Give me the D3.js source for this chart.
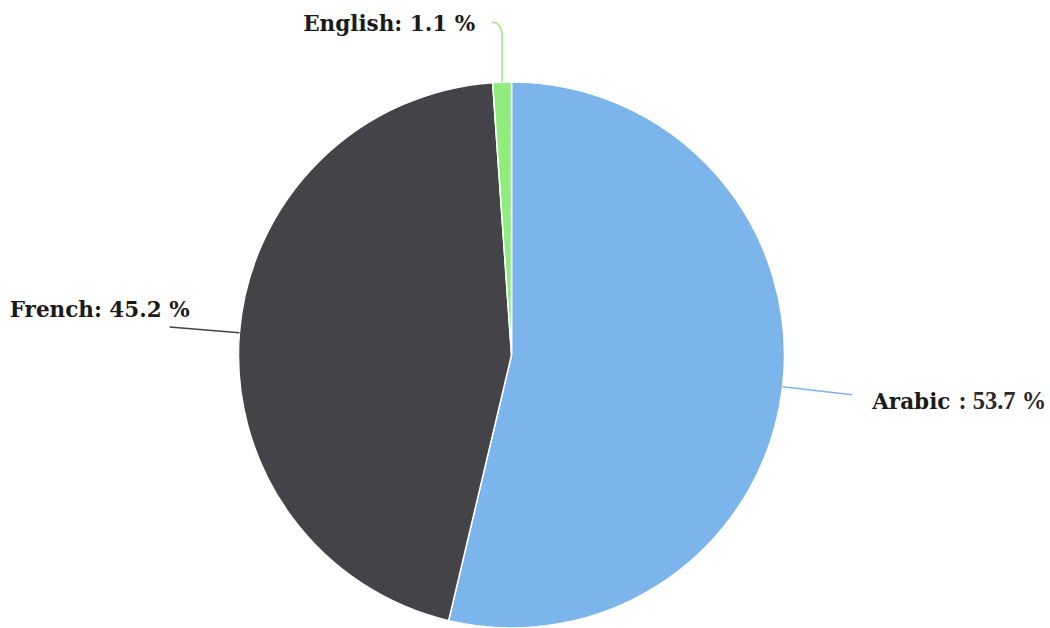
<!DOCTYPE html>
<html>
<head>
<meta charset="utf-8">
<script src="https://cdn.jsdelivr.net/npm/d3@7/dist/d3.min.js"></script>
<style>
  html, body { margin: 0; padding: 0; background: #ffffff; }
  svg { display: block; }
  .lbl { font-family: "DejaVu Serif", serif; font-weight: bold; font-size: 21.5px; fill: #1a1a1a; }
  .val { font-family: "Liberation Serif", serif; font-weight: bold; font-size: 24.5px; fill: #2a2a2a; }
</style>
</head>
<body>
<svg id="chart" width="1050" height="628"></svg>
<script>
// Language shares (%)
const languages = ["Arabic", "French", "English"];
const shares = [53.7, 45.2, 1.1];
const colors = ["#7cb5ec", "#434348", "#90ed7d"];

const width = 1050, height = 628;
const cx = 511.5, cy = 355, radius = 273;

const svg = d3.select("#chart");
const g = svg.append("g").attr("transform", `translate(${cx},${cy})`);

const pie = d3.pie().sort(null).value(d => d.value);
const data = pie(languages.map((name, i) => ({ name, value: shares[i], color: colors[i] })));

const arc = d3.arc().innerRadius(0).outerRadius(radius);

g.selectAll("path.slice")
  .data(data)
  .join("path")
  .attr("class", "slice")
  .attr("d", arc)
  .attr("fill", d => d.data.color)
  .attr("stroke", "#ffffff")
  .attr("stroke-width", 1.5)
  .attr("stroke-linejoin", "round");

// Connector and label placement per slice
const connectorLen = 70;
const labelLayout = {
  Arabic:  { anchor: "start", dx: 20,  dy: 14 },
  French:  { anchor: "end",   dx: 20,  dy: -10 },
  English: { anchor: "end",   dx: -17, dy: 9 }
};

function polar(angle, r) {
  return [r * Math.sin(angle), -r * Math.cos(angle)];
}

data.forEach(d => {
  const mid = (d.startAngle + d.endAngle) / 2;
  const p0 = polar(mid, radius);
  const lay = labelLayout[d.data.name];
  let path, end;
  if (d.data.name === "English") {
    const bend = [p0[0], p0[1] - (connectorLen - 25)];
    end = [p0[0] - 10, p0[1] - (connectorLen - 10)];
    path = `M${p0[0]},${p0[1]} L${bend[0]},${bend[1]} Q${bend[0]},${end[1]} ${end[0]},${end[1]}`;
  } else {
    end = polar(mid, radius + connectorLen);
    path = `M${p0[0]},${p0[1]} L${end[0]},${end[1]}`;
  }
  g.append("path")
    .attr("d", path)
    .attr("fill", "none")
    .attr("stroke", d.data.color)
    .attr("stroke-width", 1.5);

  const t = g.append("text")
    .attr("class", "lbl")
    .attr("x", end[0] + lay.dx)
    .attr("y", end[1] + lay.dy)
    .attr("text-anchor", lay.anchor);
  if (d.data.name === "Arabic") {
    t.append("tspan").text(d.data.name);
    t.append("tspan").attr("class", "val").attr("dx", 8).text(`: ${d.data.value} %`);
  } else {
    t.text(`${d.data.name}: ${d.data.value} %`);
  }
});
</script>
</body>
</html>
